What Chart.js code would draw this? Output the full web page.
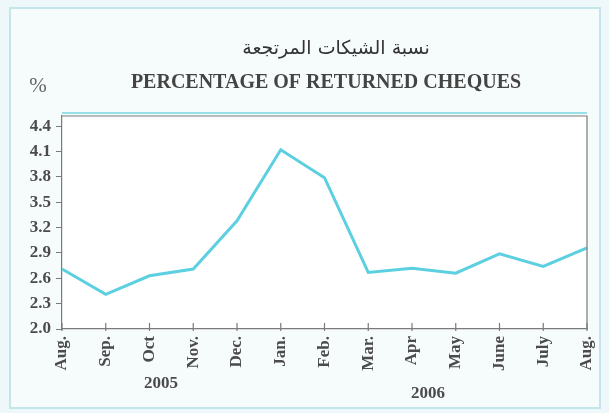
<!DOCTYPE html>
<html>
<head>
<meta charset="utf-8">
<script src="https://cdn.jsdelivr.net/npm/chart.js@4"></script>
<style>
  html, body { margin: 0; padding: 0; background: #eef8fa; }
  #wrap { width: 609px; height: 413px; }
</style>
</head>
<body>
<div id="wrap"><canvas id="chequesChart" width="609" height="413"></canvas></div>
<script>
// data
const months = ['Aug.', 'Sep.', 'Oct', 'Nov.', 'Dec.', 'Jan.', 'Feb.', 'Mar.', 'Apr', 'May', 'June', 'July', 'Aug.'];
const returnedPct = [2.71, 2.41, 2.63, 2.71, 3.28, 4.12, 3.79, 2.67, 2.72, 2.66, 2.89, 2.74, 2.96];
const yTicks = [2.0, 2.3, 2.6, 2.9, 3.2, 3.5, 3.8, 4.1, 4.4];
const years = ['2005', '2006'];
const titleAr = 'نسبة الشيكات المرتجعة';
const titleEn = 'PERCENTAGE OF RETURNED CHEQUES';

const textColor = '#4b4b4b';
const serif = "'Liberation Serif', 'Times New Roman', serif";

// frame, titles, years and inward x ticks
const decorPlugin = {
  id: 'decor',
  beforeDraw(chart) {
    const { ctx, chartArea: a } = chart;
    ctx.save();
    ctx.fillStyle = '#f6fbfc';
    ctx.fillRect(10, 8, 590, 400);
    ctx.strokeStyle = '#c4e6ea';
    ctx.lineWidth = 2;
    ctx.strokeRect(10, 8, 590, 400);
    ctx.fillStyle = '#ffffff';
    ctx.fillRect(a.left, a.top, a.right - a.left, a.bottom - a.top);
    ctx.restore();
  },
  afterDraw(chart) {
    const { ctx, chartArea: a, scales } = chart;
    ctx.save();
    // top / right border
    ctx.strokeStyle = '#79d6e0';
    ctx.lineWidth = 1.5;
    ctx.beginPath();
    ctx.moveTo(a.left, a.top - 3);
    ctx.lineTo(a.right, a.top - 3);
    ctx.stroke();
    ctx.strokeStyle = '#7a7a7a';
    ctx.lineWidth = 1.2;
    ctx.beginPath();
    ctx.moveTo(a.left, a.top);
    ctx.lineTo(a.right, a.top);
    ctx.lineTo(a.right, a.bottom);
    ctx.stroke();

    // inward tick marks on the month axis
    const x = scales.x;
    ctx.beginPath();
    x.ticks.forEach((t, i) => {
      const px = x.getPixelForTick(i);
      ctx.moveTo(px, a.bottom + 2);
      ctx.lineTo(px, a.bottom - 6);
    });
    ctx.stroke();

    // titles
    ctx.fillStyle = '#333';
    ctx.textAlign = 'center';
    ctx.textBaseline = 'middle';
    ctx.font = "19px 'DejaVu Sans', 'Noto Sans', sans-serif";
    ctx.fillText(titleAr, 336, 49);
    ctx.fillStyle = '#444';
    ctx.font = 'bold 20px ' + serif;
    ctx.fillText(titleEn, 326, 83);
    ctx.fillStyle = '#666';
    ctx.font = '21px ' + serif;
    ctx.fillText('%', 38, 86);

    // year labels under the months
    ctx.fillStyle = textColor;
    ctx.font = 'bold 17px ' + serif;
    ctx.fillText(years[0], 161, 384);
    ctx.fillText(years[1], 428, 394);
    ctx.restore();
  }
};

const ctx = document.getElementById('chequesChart').getContext('2d');
new Chart(ctx, {
  type: 'line',
  data: {
    labels: months,
    datasets: [{
      data: returnedPct,
      borderColor: '#5cd0e0',
      borderWidth: 3,
      pointRadius: 0,
      fill: false,
      tension: 0
    }]
  },
  options: {
    responsive: false,
    animation: false,
    layout: { padding: { left: 0, right: 22, top: 116, bottom: 0 } },
    plugins: {
      legend: { display: false },
      tooltip: { enabled: false }
    },
    scales: {
      x: {
        offset: false,
        grid: { display: true, drawOnChartArea: false, drawTicks: false },
        border: { display: true, color: '#7a7a7a', width: 1.2 },
        ticks: {
          color: textColor,
          font: { family: serif, size: 17, weight: 'bold' },
          minRotation: 90,
          maxRotation: 90,
          padding: 7,
          autoSkip: false
        },
        afterFit(scale) {
          scale.height = 84;
          scale.paddingLeft = 0;
          scale.paddingRight = 0;
        }
      },
      y: {
        min: 2.0,
        max: 4.52,
        afterBuildTicks(scale) { scale.ticks = yTicks.map(v => ({ value: v })); },
        grid: { drawOnChartArea: false, drawTicks: true, tickLength: 6, color: '#7a7a7a' },
        border: { display: true, color: '#7a7a7a', width: 1.2 },
        ticks: {
          color: textColor,
          font: { family: serif, size: 17, weight: 'bold' },
          padding: 5,
          callback: v => Number(v).toFixed(1)
        },
        afterFit(scale) {
          scale.width = 62;
          scale.paddingTop = 0;
          scale.paddingBottom = 0;
        }
      }
    }
  },
  plugins: [decorPlugin]
});
</script>
</body>
</html>
